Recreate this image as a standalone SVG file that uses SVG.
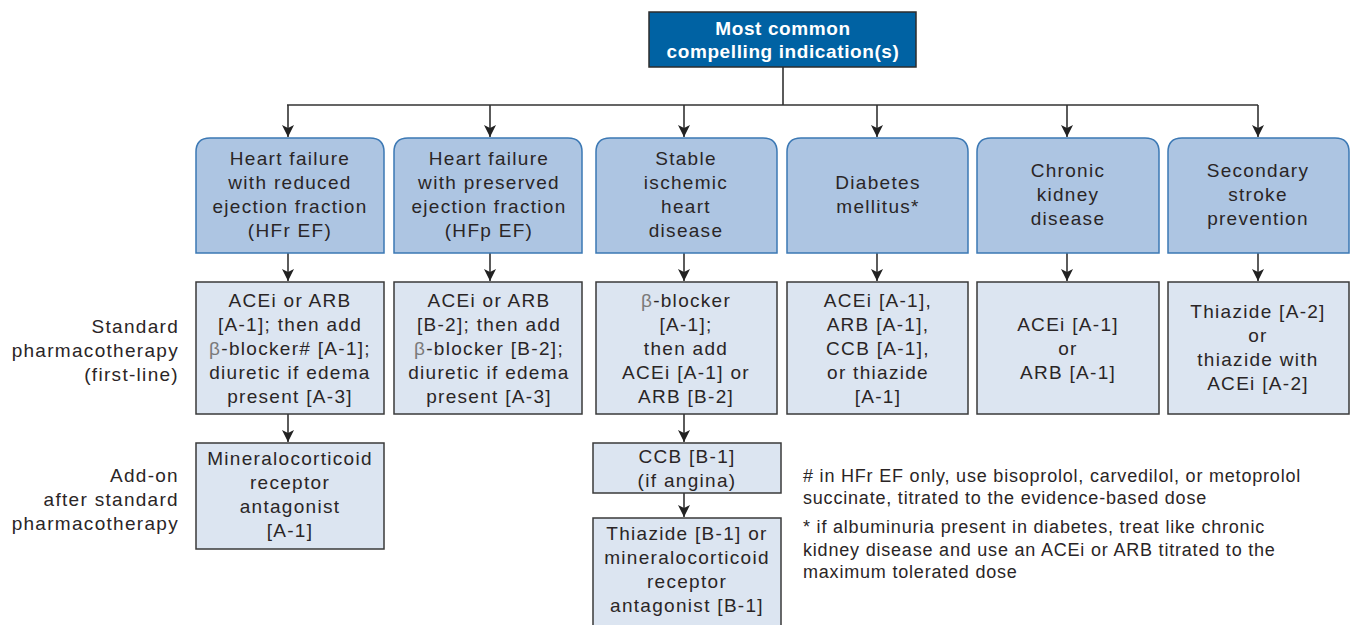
<svg xmlns="http://www.w3.org/2000/svg" width="1366" height="625" viewBox="0 0 1366 625">
<style>
text{font-family:"Liberation Sans",Arial,sans-serif;font-size:19px;fill:#2a2526;letter-spacing:1.3px}
.c{text-anchor:middle}
.r{text-anchor:end}
.w{fill:#ffffff;font-weight:bold;letter-spacing:0.6px}
.b{fill:#7a7a7a}
.fn{font-size:18px;letter-spacing:0.8px}
.dis{fill:#adc5e2;stroke:#3b78b4;stroke-width:1.5}
.std{fill:#dce5f1;stroke:#3a3a3a;stroke-width:1.5}
.top{fill:#0062a3;stroke:#2d2d2d;stroke-width:1.5}
.ln{stroke:#333;stroke-width:1.6;fill:none}
</style>
<defs>
<marker id="ah" viewBox="0 0 12 12" refX="12" refY="6" markerWidth="12" markerHeight="12" markerUnits="userSpaceOnUse" orient="auto">
<path d="M0,0 L12,6 L0,12 L3,6 z" fill="#222"/>
</marker>
</defs>
<rect width="1366" height="625" fill="#ffffff"/>
<g id="connectors">
<path class="ln" d="M783,67 V105 M287,105 H1258"/>
<path class="ln" d="M288,105 V137" marker-end="url(#ah)"/>
<path class="ln" d="M490,105 V137" marker-end="url(#ah)"/>
<path class="ln" d="M684,105 V137" marker-end="url(#ah)"/>
<path class="ln" d="M877,105 V137" marker-end="url(#ah)"/>
<path class="ln" d="M1067,105 V137" marker-end="url(#ah)"/>
<path class="ln" d="M1258,105 V137" marker-end="url(#ah)"/>
<path class="ln" d="M288,253 V281" marker-end="url(#ah)"/>
<path class="ln" d="M490,253 V281" marker-end="url(#ah)"/>
<path class="ln" d="M684,253 V281" marker-end="url(#ah)"/>
<path class="ln" d="M877,253 V281" marker-end="url(#ah)"/>
<path class="ln" d="M1067,253 V281" marker-end="url(#ah)"/>
<path class="ln" d="M1258,253 V281" marker-end="url(#ah)"/>
<path class="ln" d="M288,414 V442" marker-end="url(#ah)"/>
<path class="ln" d="M684,414 V442" marker-end="url(#ah)"/>
<path class="ln" d="M684,493 V517" marker-end="url(#ah)"/>
</g>
<g id="top">
<rect class="top" x="649" y="12" width="267" height="55"/>
<text class="c w" x="783" y="35">Most common</text>
<text class="c w" x="783" y="58">compelling indication(s)</text>
</g>
<g id="hfref">
<path class="dis" d="M196,253 V152 Q196,138 210,138 H370 Q384,138 384,152 V253 Z"/>
<text class="c" x="290" y="165">Heart failure</text>
<text class="c" x="290" y="189">with reduced</text>
<text class="c" x="290" y="213">ejection fraction</text>
<text class="c" x="290" y="237">(HFr EF)</text>
</g>
<g id="hfpef">
<path class="dis" d="M394,253 V152 Q394,138 408,138 H568 Q582,138 582,152 V253 Z"/>
<text class="c" x="489" y="165">Heart failure</text>
<text class="c" x="489" y="189">with preserved</text>
<text class="c" x="489" y="213">ejection fraction</text>
<text class="c" x="489" y="237">(HFp EF)</text>
</g>
<g id="sihd">
<path class="dis" d="M596,253 V152 Q596,138 610,138 H763 Q777,138 777,152 V253 Z"/>
<text class="c" x="686" y="165">Stable</text>
<text class="c" x="686" y="189">ischemic</text>
<text class="c" x="686" y="213">heart</text>
<text class="c" x="686" y="237">disease</text>
</g>
<g id="dm">
<path class="dis" d="M787,253 V152 Q787,138 801,138 H954 Q968,138 968,152 V253 Z"/>
<text class="c" x="878" y="189">Diabetes</text>
<text class="c" x="878" y="213">mellitus*</text>
</g>
<g id="ckd">
<path class="dis" d="M977,253 V152 Q977,138 991,138 H1145 Q1159,138 1159,152 V253 Z"/>
<text class="c" x="1068" y="177">Chronic</text>
<text class="c" x="1068" y="201">kidney</text>
<text class="c" x="1068" y="225">disease</text>
</g>
<g id="stroke">
<path class="dis" d="M1168,253 V152 Q1168,138 1182,138 H1335 Q1349,138 1349,152 V253 Z"/>
<text class="c" x="1258" y="177">Secondary</text>
<text class="c" x="1258" y="201">stroke</text>
<text class="c" x="1258" y="225">prevention</text>
</g>
<g id="label-standard">
<text class="r" x="179" y="333">Standard</text>
<text class="r" x="179" y="357">pharmacotherapy</text>
<text class="r" x="179" y="381">(first-line)</text>
</g>
<g id="label-addon">
<text class="r" x="179" y="482">Add-on</text>
<text class="r" x="179" y="506">after standard</text>
<text class="r" x="179" y="530">pharmacotherapy</text>
</g>
<g id="std-hfref">
<rect class="std" x="196" y="282" width="188" height="132"/>
<text class="c" x="290" y="307">ACEi or ARB</text>
<text class="c" x="290" y="331">[A-1]; then add</text>
<text class="c" x="290" y="355"><tspan class="b">β</tspan>-blocker# [A-1];</text>
<text class="c" x="290" y="379">diuretic if edema</text>
<text class="c" x="290" y="403">present [A-3]</text>
</g>
<g id="std-hfpef">
<rect class="std" x="394" y="282" width="188" height="132"/>
<text class="c" x="489" y="307">ACEi or ARB</text>
<text class="c" x="489" y="331">[B-2]; then add</text>
<text class="c" x="489" y="355"><tspan class="b">β</tspan>-blocker [B-2];</text>
<text class="c" x="489" y="379">diuretic if edema</text>
<text class="c" x="489" y="403">present [A-3]</text>
</g>
<g id="std-sihd">
<rect class="std" x="596" y="282" width="181" height="132"/>
<text class="c" x="686" y="307"><tspan class="b">β</tspan>-blocker</text>
<text class="c" x="686" y="331">[A-1];</text>
<text class="c" x="686" y="355">then add</text>
<text class="c" x="686" y="379">ACEi [A-1] or</text>
<text class="c" x="686" y="403">ARB [B-2]</text>
</g>
<g id="std-dm">
<rect class="std" x="787" y="282" width="181" height="132"/>
<text class="c" x="878" y="307">ACEi [A-1],</text>
<text class="c" x="878" y="331">ARB [A-1],</text>
<text class="c" x="878" y="355">CCB [A-1],</text>
<text class="c" x="878" y="379">or thiazide</text>
<text class="c" x="878" y="403">[A-1]</text>
</g>
<g id="std-ckd">
<rect class="std" x="977" y="282" width="182" height="132"/>
<text class="c" x="1068" y="331">ACEi [A-1]</text>
<text class="c" x="1068" y="355">or</text>
<text class="c" x="1068" y="379">ARB [A-1]</text>
</g>
<g id="std-stroke">
<rect class="std" x="1168" y="282" width="181" height="132"/>
<text class="c" x="1258" y="318">Thiazide [A-2]</text>
<text class="c" x="1258" y="342">or</text>
<text class="c" x="1258" y="366">thiazide with</text>
<text class="c" x="1258" y="390">ACEi [A-2]</text>
</g>
<g id="addon-hfref">
<rect class="std" x="196" y="443" width="188" height="106"/>
<text class="c" x="290" y="465">Mineralocorticoid</text>
<text class="c" x="290" y="489">receptor</text>
<text class="c" x="290" y="513">antagonist</text>
<text class="c" x="290" y="537">[A-1]</text>
</g>
<g id="addon-ccb">
<rect class="std" x="593" y="443" width="188" height="50"/>
<text class="c" x="687" y="463">CCB [B-1]</text>
<text class="c" x="687" y="487">(if angina)</text>
</g>
<g id="addon-thiazide">
<rect class="std" x="593" y="518" width="188" height="112"/>
<text class="c" x="687" y="540">Thiazide [B-1] or</text>
<text class="c" x="687" y="564">mineralocorticoid</text>
<text class="c" x="687" y="588">receptor</text>
<text class="c" x="687" y="612">antagonist [B-1]</text>
</g>
<g id="footnotes">
<text class="fn" x="803" y="482"># in HFr EF only, use bisoprolol, carvedilol, or metoprolol</text>
<text class="fn" x="803" y="504">succinate, titrated to the evidence-based dose</text>
<text class="fn" x="803" y="533">* if albuminuria present in diabetes, treat like chronic</text>
<text class="fn" x="803" y="556">kidney disease and use an ACEi or ARB titrated to the</text>
<text class="fn" x="803" y="578">maximum tolerated dose</text>
</g>
</svg>
